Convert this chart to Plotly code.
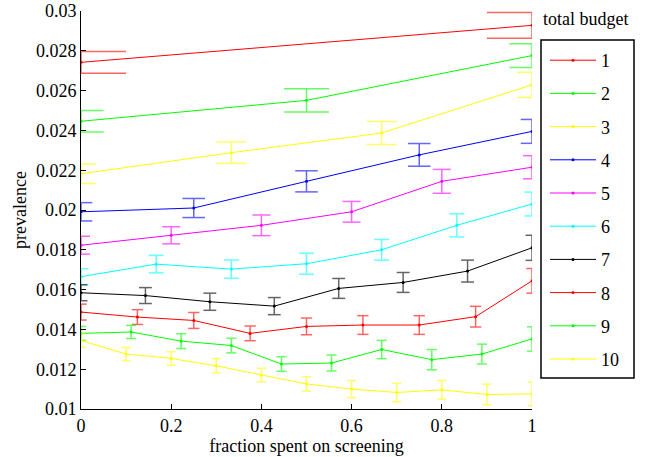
import plotly.graph_objects as go

# Prevalence vs. fraction of the budget spent on screening, one line per total budget.
budgets = ["1", "2", "3", "4", "5", "6", "7", "8", "9", "10"]
colors = ["#ff0000", "#00ff00", "#ffff00", "#0000ff", "#ff00ff",
          "#00ffff", "#000000", "#ff0000", "#00ff00", "#ffff00"]

prev_1 = [0.02742, 0.02928]
err_1 = [0.00055, 0.00065]
prev_2 = [0.02446, 0.02551, 0.02776]
err_2 = [0.00054, 0.00058, 0.00060]
prev_3 = [0.02182, 0.02288, 0.02387, 0.02629]
err_3 = [0.00049, 0.00054, 0.00058, 0.00063]
prev_4 = [0.01991, 0.02010, 0.02144, 0.02277, 0.02395]
err_4 = [0.00046, 0.00048, 0.00053, 0.00057, 0.00060]
prev_5 = [0.01823, 0.01873, 0.01923, 0.01991, 0.02144, 0.02215]
err_5 = [0.00045, 0.00043, 0.00052, 0.00052, 0.00060, 0.00058]
prev_6 = [0.01665, 0.01728, 0.01703, 0.01730, 0.01800, 0.01923, 0.02030]
err_6 = [0.00040, 0.00044, 0.00046, 0.00053, 0.00052, 0.00058, 0.00060]
prev_7 = [0.01584, 0.01570, 0.01539, 0.01517, 0.01606, 0.01636, 0.01693, 0.01810]
err_7 = [0.00040, 0.00040, 0.00043, 0.00043, 0.00050, 0.00050, 0.00055, 0.00063]
prev_8 = [0.01487, 0.01462, 0.01445, 0.01380, 0.01415, 0.01422, 0.01422, 0.01464, 0.01644]
err_8 = [0.00040, 0.00037, 0.00040, 0.00037, 0.00042, 0.00047, 0.00047, 0.00052, 0.00062]
prev_9 = [0.01380, 0.01387, 0.01341, 0.01319, 0.01226, 0.01231, 0.01299, 0.01248, 0.01276, 0.01352]
err_9 = [0.00035, 0.00033, 0.00037, 0.00037, 0.00037, 0.00040, 0.00046, 0.00051, 0.00050, 0.00061]
prev_10 = [0.01344, 0.01276, 0.01254, 0.01217, 0.01171, 0.01126, 0.01100, 0.01083, 0.01096, 0.01073, 0.01076]
err_10 = [0.00035, 0.00033, 0.00034, 0.00036, 0.00034, 0.00036, 0.00043, 0.00046, 0.00047, 0.00052, 0.00059]

prevalence = [prev_1, prev_2, prev_3, prev_4, prev_5, prev_6, prev_7, prev_8, prev_9, prev_10]
errors = [err_1, err_2, err_3, err_4, err_5, err_6, err_7, err_8, err_9, err_10]

x_ticks = [0, 0.2, 0.4, 0.6, 0.8, 1]
x_labels = ["0", "0.2", "0.4", "0.6", "0.8", "1"]
y_ticks = [0.01, 0.012, 0.014, 0.016, 0.018, 0.02, 0.022, 0.024, 0.026, 0.028, 0.03]
y_labels = ["0.01", "0.012", "0.014", "0.016", "0.018", "0.02",
            "0.022", "0.024", "0.026", "0.028", "0.03"]

FONT = "Liberation Serif, Times New Roman, serif"
LEFT, RIGHT, TOP, BOTTOM = 81, 532, 11, 409
PLOT_W = RIGHT - LEFT
PLOT_H = BOTTOM - TOP


def px_x(px):
    return (px - LEFT) / PLOT_W


def px_y(py):
    return (BOTTOM - py) / PLOT_H


fig = go.Figure()
for k, (name, col, ys, es) in enumerate(zip(budgets, colors, prevalence, errors), start=1):
    n = len(ys)
    xs = [i / (n - 1) for i in range(n)]
    cap = 0.1 / k  # half-width of the error-bar tees, in data units

    # error bars as line segments so they get clipped at the axes like the curves
    ex, ey = [], []
    for x, y, e in zip(xs, ys, es):
        ex += [x, x, None, x - cap, x + cap, None, x - cap, x + cap, None]
        ey += [y - e, y + e, None, y + e, y + e, None, y - e, y - e, None]
    fig.add_trace(go.Scatter(
        x=ex, y=ey, mode="lines", legendgroup=name, showlegend=False,
        line=dict(color=col, width=1.5), opacity=0.6, hoverinfo="skip",
    ))
    fig.add_trace(go.Scatter(
        x=xs, y=ys, name=name, legendgroup=name,
        mode="lines+markers",
        line=dict(color=col, width=1),
        marker=dict(color=col, size=3),
    ))

fig.update_layout(
    width=646, height=457,
    margin=dict(l=LEFT, r=646 - RIGHT, t=TOP, b=457 - BOTTOM),
    paper_bgcolor="white", plot_bgcolor="white",
    font=dict(family=FONT, size=18, color="black"),
    showlegend=True,
    legend=dict(
        x=px_x(545), y=px_y(42), xanchor="left", yanchor="top",
        bgcolor="rgba(0,0,0,0)", borderwidth=0,
        traceorder="grouped", tracegroupgap=6.8,
        itemwidth=46,
        font=dict(family=FONT, size=18, color="black"),
    ),
    xaxis=dict(
        range=[0, 1], tickvals=x_ticks, ticktext=x_labels,
        ticks="inside", ticklen=5, tickcolor="black",
        showline=True, linecolor="black", linewidth=1,
        showgrid=False, zeroline=False, ticklabeloverflow="allow",
        automargin=False,
        tickfont=dict(family=FONT, size=18),
        title=dict(text="fraction spent on screening", standoff=0,
                   font=dict(family=FONT, size=18)),
    ),
    yaxis=dict(
        range=[0.01, 0.03], tickvals=y_ticks, ticktext=y_labels,
        ticks="inside", ticklen=5, tickcolor="black",
        showline=True, linecolor="black", linewidth=1,
        showgrid=False, zeroline=False, ticklabeloverflow="allow",
        automargin=False,
        tickfont=dict(family=FONT, size=18),
        title=dict(text="prevalence", standoff=4,
                   font=dict(family=FONT, size=18)),
    ),
    shapes=[dict(type="rect", xref="paper", yref="paper",
                 x0=px_x(541), x1=px_x(634),
                 y0=px_y(378), y1=px_y(40),
                 line=dict(color="black", width=1.5))],
    annotations=[dict(text="total budget", xref="paper", yref="paper",
                      x=px_x(541), y=px_y(19),
                      xanchor="left", yanchor="middle", showarrow=False,
                      font=dict(family=FONT, size=18, color="black"))],
)

fig.write_html("out.html")
